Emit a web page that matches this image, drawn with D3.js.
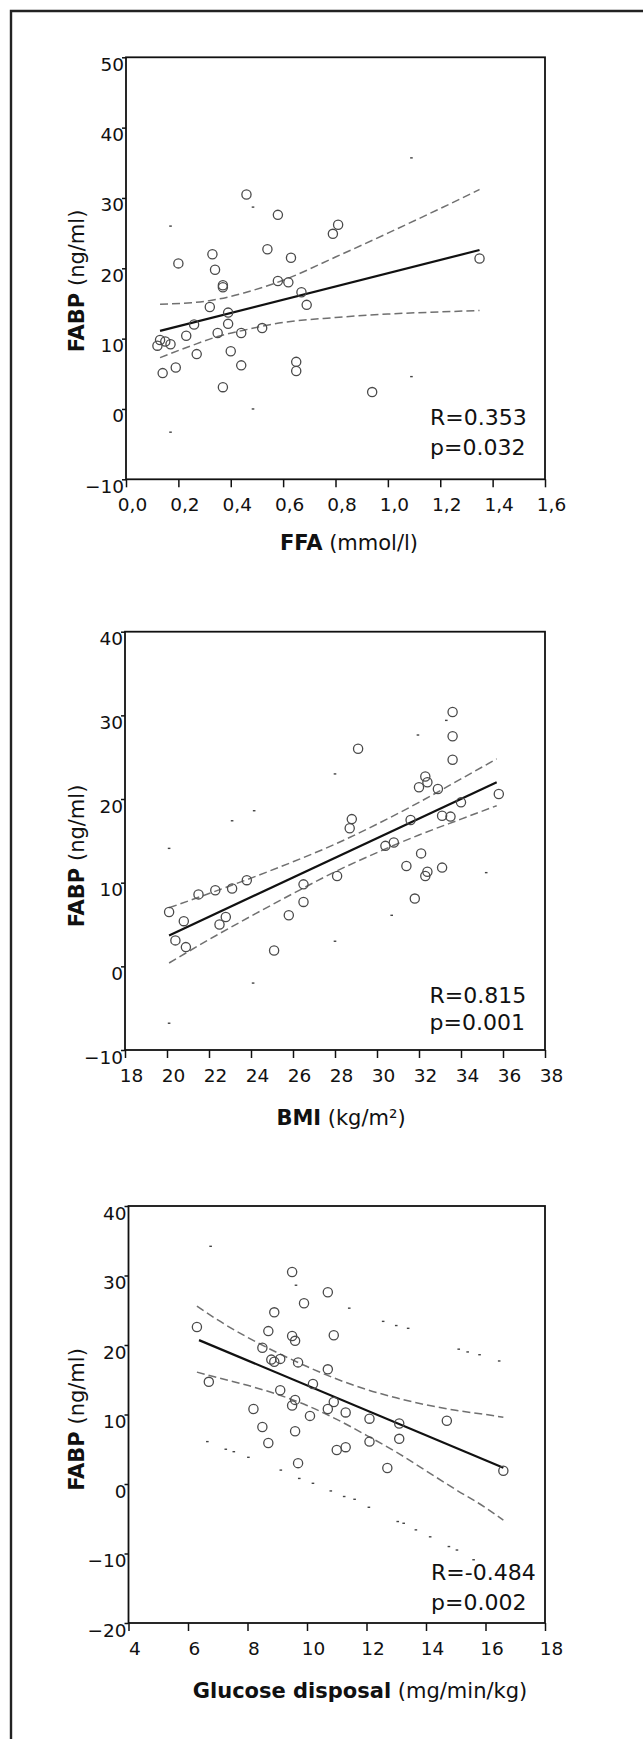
<!DOCTYPE html>
<html>
<head>
<meta charset="utf-8">
<script src="https://cdn.jsdelivr.net/npm/d3@7"></script>
<style>
  body { margin: 0; background: #fff; }
  svg { display: block; font-family: "DejaVu Sans", sans-serif; }
</style>
</head>
<body>
<svg id="chart" width="643" height="1739"></svg>
<script>
// ---- panel 1: FFA vs FABP ----
const ffaX = [0.46, 0.58, 0.81, 0.79, 0.20, 0.33, 0.34, 0.37, 0.37, 0.54,
              0.63, 0.58, 0.62, 0.67, 0.69, 0.32, 0.39, 0.39, 0.26, 0.23,
              0.35, 0.44, 0.52, 0.12, 0.13, 0.15, 0.17, 0.27, 0.40, 0.19,
              0.14, 0.44, 0.65, 0.65, 0.37, 0.94, 1.35];
const ffaY = [30.5, 27.6, 26.2, 24.9, 20.7, 22.0, 19.8, 17.6, 17.3, 22.7,
              21.5, 18.2, 18.0, 16.6, 14.8, 14.5, 13.7, 12.1, 12.0, 10.4,
              10.8, 10.8, 11.5, 9.0, 9.8, 9.6, 9.2, 7.8, 8.2, 5.9,
              5.1, 6.2, 6.7, 5.4, 3.1, 2.4, 21.4];
const ffaFitX = [0.13, 1.35];
const ffaFitY = [11.1, 22.6];
const ffaBandX = [0.13, 0.25, 0.35, 0.45, 0.6, 0.8, 1.0, 1.2, 1.35];
const ffaBandUpper = [14.9, 15.1, 15.6, 16.5, 18.3, 21.6, 25.0, 28.5, 31.2];
const ffaBandLower = [7.3, 9.0, 10.3, 11.2, 12.3, 13.0, 13.5, 13.8, 14.0];
const ffaPredDots = [[0.17, 26.0], [0.485, 28.7], [1.09, 35.7],
                     [0.17, -3.3], [0.485, 0.0], [1.09, 4.6]];
const ffaTicks = [0, 0.2, 0.4, 0.6, 0.8, 1.0, 1.2, 1.4, 1.6];
const ffaYTicks = [-10, 0, 10, 20, 30, 40, 50];
const ffaStats = ["R=0.353", "p=0.032"];

// ---- panel 2: BMI vs FABP ----
const bmiX = [33.6, 33.6, 33.6, 29.1, 32.3, 32.4, 32.0, 32.9, 35.8, 34.0,
              28.8, 28.7, 31.6, 33.1, 33.5, 30.4, 30.8, 32.1, 31.4, 32.3,
              32.4, 33.1, 31.8, 28.1, 26.5, 26.5, 25.8, 25.1, 23.8, 23.1,
              22.3, 21.5, 20.1, 20.8, 22.8, 22.5, 20.4, 20.9];
const bmiY = [30.4, 27.5, 24.7, 26.0, 22.7, 22.0, 21.4, 21.2, 20.6, 19.6,
              17.6, 16.5, 17.5, 18.0, 17.9, 14.4, 14.8, 13.5, 12.0, 10.8,
              11.3, 11.8, 8.1, 10.8, 9.8, 7.7, 6.1, 1.9, 10.3, 9.3,
              9.1, 8.6, 6.5, 5.4, 5.9, 5.0, 3.1, 2.3];
const bmiFitX = [20.1, 35.7];
const bmiFitY = [3.7, 22.0];
const bmiBandX = [20.1, 22, 24, 26, 28, 30, 32, 34, 35.7];
const bmiBandUpper = [7.0, 8.7, 10.55, 12.5, 14.6, 17.0, 19.6, 22.4, 24.8];
const bmiBandLower = [0.4, 3.2, 6.0, 8.7, 11.3, 13.6, 15.7, 17.6, 19.2];
const bmiPredDots = [[20.1, 14.1], [23.1, 17.4], [24.15, 18.6], [28.0, 23.0],
                     [31.95, 27.65], [33.3, 29.4],
                     [20.1, -6.8], [24.1, -2.0], [28.0, 3.0], [30.7, 6.1], [35.2, 11.2]];
const bmiTicks = [18, 20, 22, 24, 26, 28, 30, 32, 34, 36, 38];
const bmiYTicks = [-10, 0, 10, 20, 30, 40];
const bmiStats = ["R=0.815", "p=0.001"];

// ---- panel 3: glucose disposal vs FABP ----
const gdX = [9.5, 10.7, 9.9, 8.9, 6.3, 8.7, 9.5, 9.6, 10.9, 8.5,
             8.8, 9.1, 8.9, 9.7, 10.7, 6.7, 10.2, 9.1, 9.6, 10.9,
             9.5, 8.2, 10.7, 11.3, 10.1, 12.1, 13.1, 14.7, 8.5, 9.6,
             8.7, 12.1, 13.1, 11.0, 11.3, 9.7, 12.7, 16.6];
const gdY = [30.5, 27.6, 26.0, 24.7, 22.6, 22.0, 21.3, 20.6, 21.4, 19.6,
             17.9, 18.0, 17.6, 17.5, 16.5, 14.7, 14.4, 13.5, 12.1, 11.8,
             11.3, 10.8, 10.8, 10.3, 9.8, 9.4, 8.7, 9.1, 8.2, 7.6,
             5.9, 6.1, 6.5, 4.9, 5.3, 3.0, 2.3, 1.9];
const gdFitX = [6.37, 16.6];
const gdFitY = [20.7, 2.35];
const gdBandX = [6.3, 7, 8, 9, 10, 11, 12, 13, 14, 15, 16, 16.6];
const gdBandUpper = [25.6, 23.6, 21.1, 18.9, 16.9, 15.1, 13.6, 12.4, 11.4, 10.6, 10.0, 9.6];
const gdBandLower = [16.1, 15.3, 14.2, 12.9, 11.3, 9.3, 7.0, 4.6, 1.9, -0.8, -3.4, -5.2];
const gdPredDots = [[6.76, 34.2], [9.63, 28.6], [11.42, 25.3], [12.56, 23.4], [13.0, 22.8],
                    [13.4, 22.4], [15.1, 19.4], [15.4, 19.0], [15.8, 18.6], [16.46, 17.7],
                    [6.65, 6.1], [7.27, 5.0], [7.54, 4.65], [8.03, 3.84], [9.12, 2.0],
                    [9.74, 0.8], [10.2, 0.1], [10.8, -1.0], [11.25, -1.8], [11.6, -2.2],
                    [12.08, -3.35], [13.05, -5.4], [13.25, -5.65], [13.66, -6.6], [14.14, -7.6],
                    [14.77, -9.0], [15.04, -9.5], [15.6, -10.9]];
const gdTicks = [4, 6, 8, 10, 12, 14, 16, 18];
const gdYTicks = [-20, -10, 0, 10, 20, 30, 40];
const gdStats = ["R=-0.484", "p=0.002"];

// comma decimal like the original figure (0,2 ...)
const commaLocale = d3.formatLocale({ decimal: ",", thousands: ".", grouping: [3], currency: ["", ""] });

const panels = [
  { xs: ffaX, ys: ffaY, fitX: ffaFitX, fitY: ffaFitY,
    bandX: ffaBandX, upper: ffaBandUpper, lower: ffaBandLower, dots: ffaPredDots,
    xTicks: ffaTicks, yTicks: ffaYTicks, stats: ffaStats, xFormat: commaLocale.format(".1f"),
    titleBold: "FFA", titleRest: " (mmol/l)",
    left: 126, right: 545, top: 57.3, bottom: 479.3,
    titleX: 349, titleY: 549.5, yTitleY: 281, statX: 430, statY: [425, 455] },
  { xs: bmiX, ys: bmiY, fitX: bmiFitX, fitY: bmiFitY,
    bandX: bmiBandX, upper: bmiBandUpper, lower: bmiBandLower, dots: bmiPredDots,
    xTicks: bmiTicks, yTicks: bmiYTicks, stats: bmiStats, xFormat: d3.format("d"),
    titleBold: "BMI", titleRest: " (kg/m\u00b2)",
    left: 125, right: 545, top: 631.7, bottom: 1050,
    titleX: 341, titleY: 1125, yTitleY: 856, statX: 429.5, statY: [1003, 1030] },
  { xs: gdX, ys: gdY, fitX: gdFitX, fitY: gdFitY,
    bandX: gdBandX, upper: gdBandUpper, lower: gdBandLower, dots: gdPredDots,
    xTicks: gdTicks, yTicks: gdYTicks, stats: gdStats, xFormat: d3.format("d"),
    titleBold: "Glucose disposal", titleRest: " (mg/min/kg)",
    left: 128.5, right: 545, top: 1206, bottom: 1623,
    titleX: 360, titleY: 1698, yTitleY: 1419.5, statX: 431, statY: [1580, 1610] }
];

const svg = d3.select("#chart");
svg.append("rect").attr("width", 643).attr("height", 1739).attr("fill", "#fff");

// outer frame (only left and top edges are inside the picture)
svg.append("path")
    .attr("d", "M11,1739V11H643")
    .attr("fill", "none")
    .attr("stroke", "#222")
    .attr("stroke-width", 2.4);

function drawPanel(p)
{
  const xDomain = [p.xTicks[0], p.xTicks[p.xTicks.length - 1]];
  const yDomain = [p.yTicks[0], p.yTicks[p.yTicks.length - 1]];
  const x = d3.scaleLinear().domain(xDomain).range([p.left, p.right]);
  const y = d3.scaleLinear().domain(yDomain).range([p.bottom, p.top]);
  const g = svg.append("g");

  const line = d3.line().x(d => x(d[0])).y(d => y(d[1]));
  const curve = d3.line().x(d => x(d[0])).y(d => y(d[1])).curve(d3.curveMonotoneX);

  // mean confidence band, dashed
  [p.upper, p.lower].forEach(band => {
    g.append("path")
        .datum(d3.zip(p.bandX, band))
        .attr("d", curve)
        .attr("fill", "none")
        .attr("stroke", "#707070")
        .attr("stroke-width", 1.5)
        .attr("stroke-dasharray", "8,4");
  });

  // individual prediction interval, only faint specks are left of it
  g.selectAll("rect.speck").data(p.dots).join("rect")
      .attr("class", "speck")
      .attr("x", d => x(d[0]) - 1.3)
      .attr("y", d => y(d[1]) - 0.7)
      .attr("width", 2.6)
      .attr("height", 1.4)
      .attr("fill", "#444");

  // fit line
  g.append("path")
      .datum(d3.zip(p.fitX, p.fitY))
      .attr("d", line)
      .attr("fill", "none")
      .attr("stroke", "#111")
      .attr("stroke-width", 2.2);

  // points
  g.selectAll("circle").data(d3.zip(p.xs, p.ys)).join("circle")
      .attr("cx", d => x(d[0]))
      .attr("cy", d => y(d[1]))
      .attr("r", 4.6)
      .attr("fill", "none")
      .attr("stroke", "#4a4a4a")
      .attr("stroke-width", 1.3);

  // plot box
  g.append("rect")
      .attr("x", p.left).attr("y", p.top)
      .attr("width", p.right - p.left).attr("height", p.bottom - p.top)
      .attr("fill", "none")
      .attr("stroke", "#111")
      .attr("stroke-width", 1.8);

  // x axis
  const gx = g.append("g")
      .attr("transform", `translate(0,${p.bottom})`)
      .call(d3.axisBottom(x).tickValues(p.xTicks).tickSize(8).tickSizeOuter(0).tickFormat(p.xFormat));
  gx.select(".domain").remove();
  gx.attr("font-family", null).attr("font-size", null);
  gx.selectAll(".tick line").attr("stroke", "#111").attr("stroke-width", 1.5);
  gx.selectAll(".tick text")
      .attr("x", 6).attr("y", 32).attr("dy", null)
      .attr("font-size", 18.5).attr("fill", "#111");

  // y axis
  const gy = g.append("g")
      .attr("transform", `translate(${p.left},0)`)
      .call(d3.axisLeft(y).tickValues(p.yTicks).tickSize(4).tickSizeOuter(0).tickFormat(d3.format("d")));
  gy.select(".domain").remove();
  gy.attr("font-family", null).attr("font-size", null);
  gy.selectAll(".tick line").attr("stroke", "#111").attr("stroke-width", 1.5);
  gy.selectAll(".tick text")
      .attr("x", -2).attr("y", 13).attr("dy", null)
      .attr("font-size", 18.5).attr("fill", "#111");

  // x title
  const tx = g.append("text")
      .attr("x", p.titleX).attr("y", p.titleY)
      .attr("text-anchor", "middle")
      .attr("font-size", 21)
      .attr("fill", "#111");
  tx.append("tspan").attr("font-weight", "bold").text(p.titleBold);
  tx.append("tspan").text(p.titleRest);

  // y title
  const ty = g.append("text")
      .attr("transform", `translate(84,${p.yTitleY}) rotate(-90)`)
      .attr("text-anchor", "middle")
      .attr("font-size", 21)
      .attr("fill", "#111");
  ty.append("tspan").attr("font-weight", "bold").text("FABP");
  ty.append("tspan").text(" (ng/ml)");

  // R and p
  g.selectAll("text.stat").data(p.stats).join("text")
      .attr("class", "stat")
      .attr("x", p.statX)
      .attr("y", (d, i) => p.statY[i])
      .attr("font-size", 22)
      .attr("fill", "#111")
      .text(d => d);
}

panels.forEach(drawPanel);
</script>
</body>
</html>
